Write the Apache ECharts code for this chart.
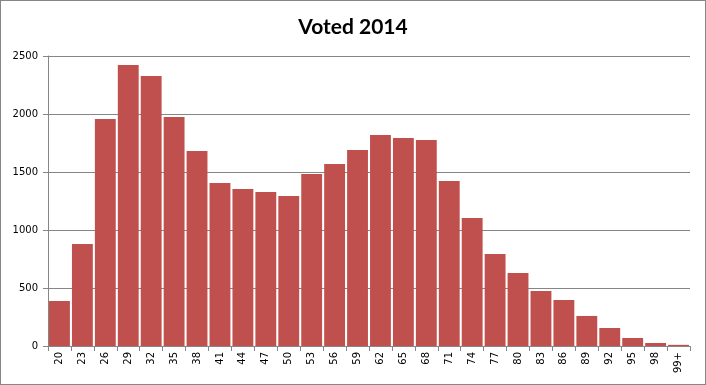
<!DOCTYPE html>
<html><head><meta charset="utf-8">
<script src="https://cdn.jsdelivr.net/npm/echarts@6/dist/echarts.min.js"></script>
<style>
html,body{margin:0;padding:0;background:#fff;}
#c{width:706px;height:385px;box-sizing:border-box;border:1px solid #868686;}
</style></head>
<body><div id="c"></div>
<script>
const categories = ['20','23','26','29','32','35','38','41','44','47','50','53','56','59','62','65','68','71','74','77','80','83','86','89','92','95','98','99+'];
const voted = [388,879,1957,2422,2328,1974,1681,1405,1353,1328,1293,1483,1569,1690,1819,1793,1776,1422,1103,793,629,474,397,259,155,69,26,10];
const titleText = 'Voted 2014';

const chart = echarts.init(document.getElementById('c'), null, {renderer:'canvas'});
chart.setOption({
  animation:false,
  title:{text:titleText,left:'center',top:11,textStyle:{fontFamily:'Lato',fontWeight:'bold',fontSize:21,color:'#000'}},
  grid:{left:47,right:15,top:55,bottom:38},
  xAxis:{type:'category',data:categories,boundaryGap:true,
    axisLine:{lineStyle:{color:'#868686',width:1}},
    axisTick:{show:true,alignWithLabel:false,length:5,lineStyle:{color:'#868686'}},
    axisLabel:{rotate:90,interval:0,fontFamily:'DejaVu Sans',fontSize:10,color:'#000',margin:6}},
  yAxis:{type:'value',min:0,max:2500,interval:500,
    axisLine:{show:true,lineStyle:{color:'#868686'}},
    axisTick:{show:true,length:5,lineStyle:{color:'#868686'}},
    splitLine:{lineStyle:{color:'#868686',width:1}},
    axisLabel:{fontFamily:'DejaVu Sans',fontSize:10,color:'#000',margin:10,formatter:function(v){return String(v);}}},
  series:[{type:'bar',data:voted,barCategoryGap:'9%',itemStyle:{color:'#C0504D'}}]
});
</script></body></html>
